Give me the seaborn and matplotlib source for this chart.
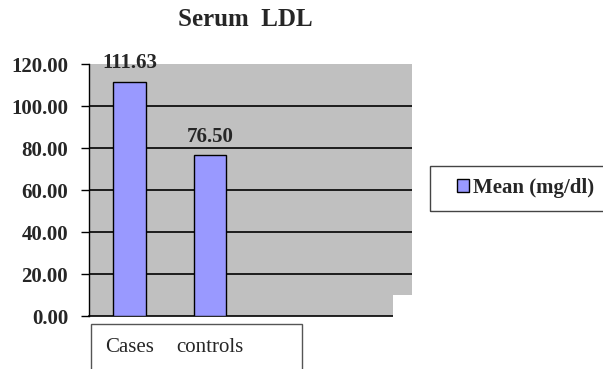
import numpy as np
import pandas as pd
import seaborn as sns
import matplotlib.pyplot as plt
from matplotlib.patches import Rectangle

# data
groups = ['Cases', 'controls']
ldl_mean = [111.63, 76.50]
series_label = 'Mean (mg/dl)'
y_ticks = [0, 20, 40, 60, 80, 100, 120]

sns.set_theme(style='white')
plt.rcParams['font.family'] = ['Liberation Serif', 'DejaVu Serif']

df = pd.DataFrame({'group': groups, 'ldl': ldl_mean})

W, H = 603, 369
fig = plt.figure(figsize=(W / 100, H / 100), dpi=100)
# axes box in pixel terms: x 89..412, y 64..316
ax = fig.add_axes([89 / W, 1 - 316 / H, (412 - 89) / W, (316 - 64) / H])
ax.set_facecolor('#C0C0C0')

sns.barplot(data=df, x='group', y='ldl', order=groups, width=0.4,
            color='#9999FF', edgecolor='black', linewidth=1,
            saturation=1, label=series_label, ax=ax, zorder=3)

ax.set_xlim(-0.5, 3.5)
ax.set_ylim(0, 120)
ax.set_yticks(y_ticks)
ax.set_yticklabels([f'{v:.2f}' for v in y_ticks], fontsize=15, fontweight='bold')
for v in y_ticks[1:-1]:
    ax.axhline(v, color='black', lw=1.2, zorder=2)

ax.set_xticks([0, 1])
ax.set_xticklabels(groups, fontsize=15)
ax.set_xticks([2.5], minor=True)
ax.tick_params(axis='x', which='major', length=0, pad=16)
ax.tick_params(axis='x', which='minor', length=5, width=1, color='black', direction='inout')
ax.tick_params(axis='y', length=6, width=1, color='black', pad=9, left=True)
ax.set_xlabel('')
ax.set_ylabel('')

for s in ['top', 'right']:
    ax.spines[s].set_visible(False)
ax.spines['left'].set_color('black')
ax.spines['left'].set_linewidth(1)
ax.spines['bottom'].set_color('black')
ax.spines['bottom'].set_linewidth(1.2)

for c in ax.containers:
    ax.bar_label(c, fmt='%.2f', padding=6, fontsize=15, fontweight='bold', zorder=5)

# bottom-right notch of the gray plot area
fig.patches.append(Rectangle((393 / W, 1 - 318 / H), 22 / W, 23 / H,
                             transform=fig.transFigure, facecolor='white',
                             edgecolor='none', zorder=10))
# box around the category labels
fig.patches.append(Rectangle((91 / W, 1 - 372 / H), (302 - 91) / W, (372 - 324) / H,
                             transform=fig.transFigure, facecolor='none',
                             edgecolor='#555555', lw=1, zorder=10))
# legend box, runs off the right edge like the original
fig.patches.append(Rectangle((430 / W, 1 - 211 / H), 190 / W, 45 / H,
                             transform=fig.transFigure, facecolor='none',
                             edgecolor='#444444', lw=1, zorder=10))

leg = ax.legend(loc='center left', bbox_to_anchor=(444 / W, 1 - 188 / H),
                bbox_transform=fig.transFigure, frameon=False,
                borderaxespad=0, handlelength=0.6, handleheight=0.6,
                handletextpad=0.2, borderpad=0.6,
                prop={'size': 15, 'weight': 'bold'})

fig.text(245 / W, 1 - 19 / H, 'Serum  LDL', ha='center', va='center',
         fontsize=18, fontweight='bold')

fig.savefig('out.png', dpi=100)
